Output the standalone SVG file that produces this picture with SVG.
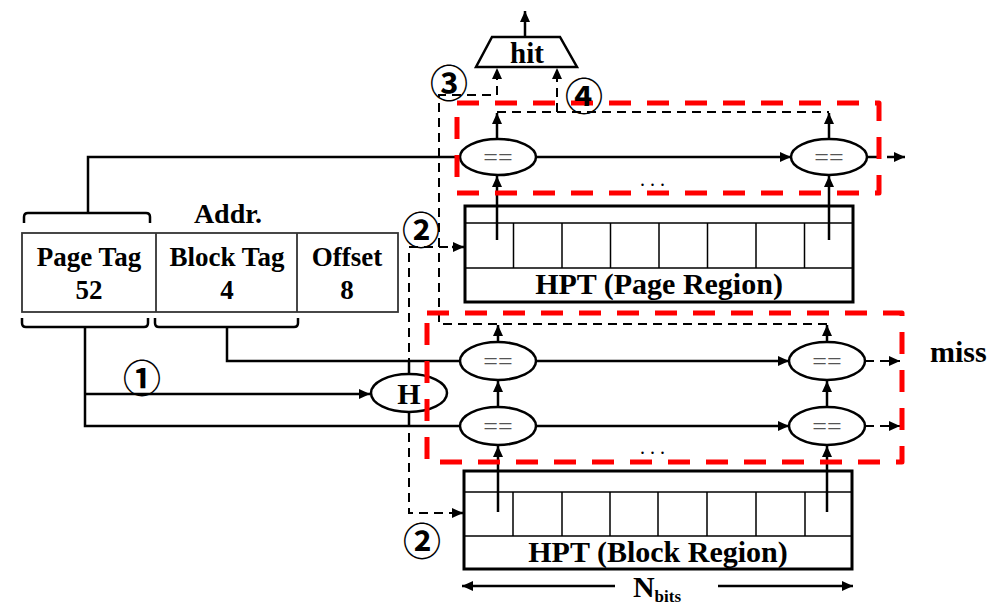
<svg xmlns="http://www.w3.org/2000/svg" width="989" height="606" viewBox="0 0 989 606">
<defs>
<marker id="ah" markerUnits="userSpaceOnUse" markerWidth="12" markerHeight="12" refX="11" refY="6" orient="auto">
<path d="M0,1 L11,6 L0,11 z" fill="#000"/>
</marker>
<style>
.ln{stroke:#000;stroke-width:2.5;fill:none}
.thin{stroke:#000;stroke-width:1.5;fill:none}
.dl{stroke:#000;stroke-width:2;stroke-dasharray:9 6;fill:none}
.red{stroke:#f00;stroke-width:5;stroke-dasharray:22 16;fill:none;stroke-linejoin:round}
.cmp{fill:#fff;stroke:#000;stroke-width:2.5}
.box{fill:#fff;stroke:#000;stroke-width:3}
.t{font-family:"Liberation Serif","Times New Roman",serif;font-weight:bold;fill:#000;text-anchor:middle}
.eq{font-family:"Liberation Serif",serif;font-size:26px;fill:#555;text-anchor:middle}
.cn{font-family:"Noto Sans CJK SC","DejaVu Sans",sans-serif;font-size:38px;font-weight:bold;fill:#000;text-anchor:middle;dominant-baseline:central}
.dots{font-family:"Liberation Serif",serif;font-size:20px;fill:#000;text-anchor:middle;letter-spacing:5px}
</style>
</defs>
<rect width="989" height="606" fill="#fff"/>

<g id="connectors">
<path class="ln" d="M88,213 L88,157 L460,157"/>
<line class="ln" x1="536" y1="157" x2="791" y2="157" marker-end="url(#ah)"/>
<line class="ln" x1="867" y1="157" x2="877" y2="157"/>
<line class="ln" x1="887" y1="157" x2="905" y2="157" marker-end="url(#ah)"/>
<line class="ln" x1="497" y1="240" x2="497" y2="176" marker-end="url(#ah)"/>
<line class="ln" x1="829" y1="240" x2="829" y2="176" marker-end="url(#ah)"/>
<line class="ln" x1="497" y1="139" x2="497" y2="113" marker-end="url(#ah)"/>
<line class="ln" x1="829" y1="139" x2="829" y2="113" marker-end="url(#ah)"/>
<path class="dl" d="M497,112 L829,112"/>
<path class="dl" d="M557,112 L557,68" marker-end="url(#ah)"/>
<path class="dl" d="M827,324 L439,324 L439,95 L497,95 L497,68" marker-end="url(#ah)"/>
<line class="ln" x1="498" y1="342" x2="498" y2="325" marker-end="url(#ah)"/>
<line class="ln" x1="827" y1="342" x2="827" y2="325" marker-end="url(#ah)"/>
<line class="ln" x1="525" y1="37" x2="525" y2="11" marker-end="url(#ah)"/>
<path class="dl" d="M463,247 L409,247 L409,513 L463,513"/>
<line class="ln" x1="452" y1="247" x2="464" y2="247" marker-end="url(#ah)"/>
<line class="ln" x1="452" y1="513" x2="463" y2="513" marker-end="url(#ah)"/>
<line class="ln" x1="409" y1="361" x2="409" y2="375"/>
<line class="ln" x1="409" y1="411" x2="409" y2="426"/>
<path class="ln" d="M85,328 L85,426 L460,426"/>
<line class="ln" x1="85" y1="394" x2="370" y2="394" marker-end="url(#ah)"/>
<path class="ln" d="M227,328 L227,361 L460,361"/>
<line class="ln" x1="536" y1="361" x2="789" y2="361" marker-end="url(#ah)"/>
<line class="ln" x1="536" y1="426" x2="789" y2="426" marker-end="url(#ah)"/>
<path class="dl" d="M865,361 L900,361" marker-end="url(#ah)"/>
<path class="dl" d="M865,426 L900,426" marker-end="url(#ah)"/>
<line class="ln" x1="498" y1="407" x2="498" y2="381" marker-end="url(#ah)"/>
<line class="ln" x1="827" y1="407" x2="827" y2="381" marker-end="url(#ah)"/>
<line class="ln" x1="498" y1="512" x2="498" y2="446" marker-end="url(#ah)"/>
<line class="ln" x1="827" y1="512" x2="827" y2="446" marker-end="url(#ah)"/>
<line class="ln" x1="615" y1="586" x2="462" y2="586" marker-end="url(#ah)"/>
<line class="ln" x1="718" y1="586" x2="853" y2="586" marker-end="url(#ah)"/>
</g>

<g id="addr">
<rect x="22" y="233" width="376" height="79" fill="#fff" stroke="#333" stroke-width="1.8"/>
<line x1="156" y1="233" x2="156" y2="312" stroke="#333" stroke-width="1.8"/>
<line x1="297" y1="233" x2="297" y2="312" stroke="#333" stroke-width="1.8"/>
<text class="t" x="228" y="223" font-size="28">Addr.</text>
<text class="t" x="89" y="266" font-size="27">Page Tag</text>
<text class="t" x="89" y="299" font-size="27">52</text>
<text class="t" x="227" y="266" font-size="27">Block Tag</text>
<text class="t" x="227" y="299" font-size="27">4</text>
<text class="t" x="347" y="266" font-size="27">Offset</text>
<text class="t" x="347" y="299" font-size="27">8</text>
<path class="ln" d="M24,223 L24,217 Q24,213 28,213 L146,213 Q150,213 150,217 L150,223"/>
<path class="ln" d="M22,318 L22,323 Q22,327 26,327 L144,327 Q148,327 148,323 L148,318"/>
<path class="ln" d="M155,318 L155,323 Q155,327 159,327 L294,327 Q298,327 298,323 L298,318"/>
</g>

<g id="hit">
<polygon points="492,37 560,37 577,67 476,67" fill="#fff" stroke="#000" stroke-width="2.5"/>
<text class="t" x="527" y="63" font-size="29">hit</text>
</g>

<g id="page-cmp-1"><ellipse class="cmp" cx="498" cy="157" rx="38" ry="18"/><text class="eq" x="498" y="166">==</text></g>
<g id="page-cmp-2"><ellipse class="cmp" cx="829" cy="157" rx="38" ry="18"/><text class="eq" x="829" y="166">==</text></g>
<text class="dots" x="655" y="186">...</text>

<g id="hpt-page">
<rect class="box" x="465" y="206" width="388" height="96"/>
<line class="thin" x1="465" y1="223" x2="853" y2="223"/>
<line class="thin" x1="465" y1="268" x2="853" y2="268"/>
<path class="thin" d="M513.5,223V268M562,223V268M610.5,223V268M659,223V268M707.5,223V268M756,223V268M804.5,223V268"/>
<line class="ln" x1="497" y1="206" x2="497" y2="240"/>
<line class="ln" x1="829" y1="206" x2="829" y2="240"/>
<text class="t" x="659" y="294" font-size="30">HPT (Page Region)</text>
</g>

<g id="hash"><ellipse class="cmp" cx="409" cy="393" rx="38" ry="19"/><text class="t" x="409" y="404" font-size="30">H</text></g>

<g id="block-cmp-1"><ellipse class="cmp" cx="498" cy="361" rx="38" ry="19"/><text class="eq" x="498" y="370">==</text></g>
<g id="block-cmp-2"><ellipse class="cmp" cx="827" cy="361" rx="38" ry="19"/><text class="eq" x="827" y="370">==</text></g>
<g id="block-cmp-3"><ellipse class="cmp" cx="498" cy="426" rx="38" ry="19"/><text class="eq" x="498" y="435">==</text></g>
<g id="block-cmp-4"><ellipse class="cmp" cx="827" cy="426" rx="38" ry="19"/><text class="eq" x="827" y="435">==</text></g>
<text class="dots" x="655" y="454">...</text>

<g id="hpt-block">
<rect class="box" x="464" y="471" width="388" height="98"/>
<line class="thin" x1="464" y1="492" x2="852" y2="492"/>
<line class="thin" x1="464" y1="536" x2="852" y2="536"/>
<path class="thin" d="M513,492V536M562,492V536M610,492V536M658,492V536M707,492V536M756,492V536M805,492V536"/>
<line class="ln" x1="498" y1="471" x2="498" y2="512"/>
<line class="ln" x1="827" y1="471" x2="827" y2="512"/>
<text class="t" x="658" y="562" font-size="30">HPT (Block Region)</text>
</g>

<g id="regions">
<rect class="red" x="457" y="103" width="422" height="90"/>
<rect class="red" x="427" y="313" width="475" height="149"/>
</g>

<g id="labels">
<text class="cn" x="449" y="80">③</text>
<text class="cn" x="584" y="93">④</text>
<text class="cn" x="421" y="227">②</text>
<text class="cn" x="142" y="375">①</text>
<text class="cn" x="422" y="538">②</text>
<text class="t" x="930" y="362" font-size="30" style="text-anchor:start">miss</text>
<text class="t" x="657" y="597" font-size="30">N<tspan font-size="17" dy="5">bits</tspan></text>
</g>
</svg>
